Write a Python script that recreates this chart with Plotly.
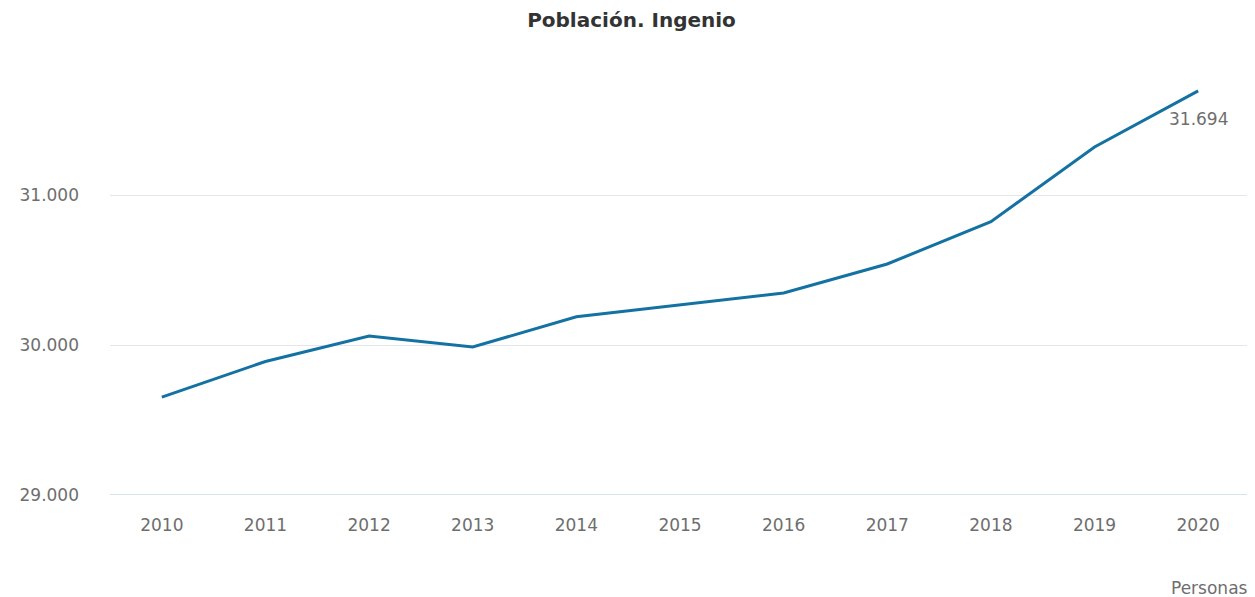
import plotly.graph_objects as go

years = ["2010", "2011", "2012", "2013", "2014", "2015", "2016", "2017", "2018", "2019", "2020"]
poblacion = [29653, 29890, 30060, 29987, 30188, 30270, 30347, 30540, 30822, 31320, 31694]
y_ticks = [29000, 30000, 31000]
y_tick_labels = ["29.000", "30.000", "31.000"]
last_label = "31.694"

fig = go.Figure()
fig.add_trace(go.Scatter(
    x=years, y=poblacion, mode="lines",
    line=dict(color="#1472a3", width=3),
    hoverinfo="x+y", showlegend=False,
))
fig.add_annotation(
    x=len(years) - 1, y=poblacion[-1], text=last_label, showarrow=False,
    xanchor="center", yanchor="top", yshift=-16,
    font=dict(family="DejaVu Sans", size=17, color="#6e6e6e"),
)
fig.add_annotation(
    xref="paper", yref="paper", x=1.0, y=-0.207, text="Personas",
    showarrow=False, xanchor="right", yanchor="middle",
    font=dict(family="DejaVu Sans", size=17, color="#6e6e6e"),
)
fig.update_layout(
    width=1247, height=589,
    margin=dict(l=102, r=5, t=37, b=102),
    paper_bgcolor="white", plot_bgcolor="white",
    separators=",.",
    title=dict(text="<b>Población. Ingenio</b>", x=0.5, xanchor="center", y=0.98, yanchor="middle",
               font=dict(family="DejaVu Sans", size=20, color="#333333")),
    xaxis=dict(type="category", range=[-0.5, 10.5], showgrid=False, showline=False,
               ticks="", ticklabelstandoff=18,
               tickfont=dict(family="DejaVu Sans", size=17, color="#6e6e6e")),
    yaxis=dict(range=[29000, 32000], tickvals=y_ticks, ticktext=y_tick_labels,
               showgrid=True, gridcolor="#e3e6ef", gridwidth=1, zeroline=False,
               showline=False, ticks="", ticklabelstandoff=30,
               tickfont=dict(family="DejaVu Sans", size=17, color="#6e6e6e")),
)
fig.add_shape(type="line", xref="paper", yref="y", x0=0, x1=1, y0=29000, y1=29000,
              line=dict(color="#ccd6eb", width=1.5))
fig.write_html("out.html")
